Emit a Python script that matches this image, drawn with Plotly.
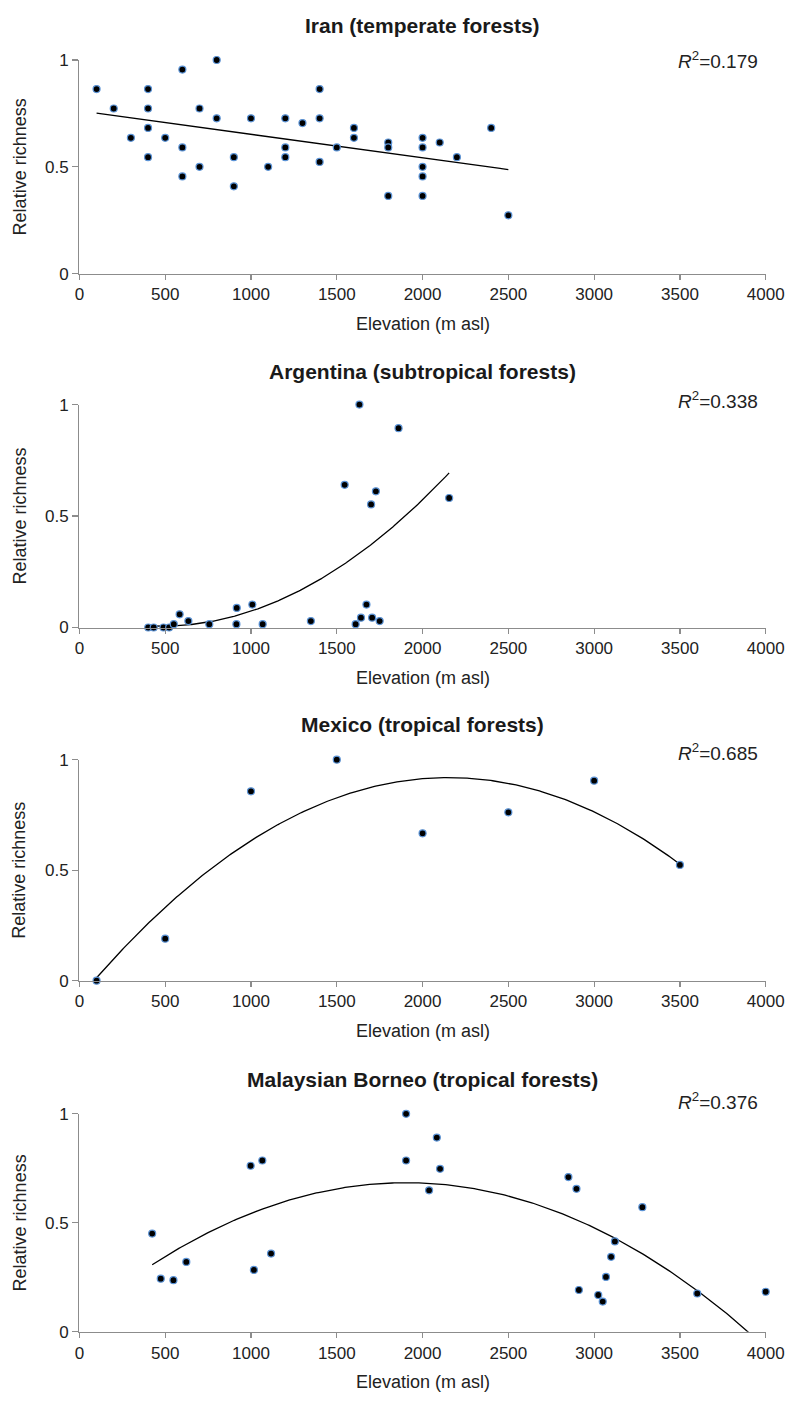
import numpy as np
import plotly.graph_objects as go

# ---------------- data ----------------
titles = ["Iran (temperate forests)", "Argentina (subtropical forests)",
          "Mexico (tropical forests)", "Malaysian Borneo (tropical forests)"]
r2_labels = ["0.179", "0.338", "0.685", "0.376"]
trend_degree = [1, 2, 2, 2]

iran_x = [100, 200, 300, 400, 400, 400, 400, 500, 600, 600, 600, 700, 700, 800, 800,
          900, 900, 1000, 1100, 1200, 1200, 1200, 1300, 1400, 1400, 1400, 1500, 1600, 1600,
          1800, 1800, 1800, 2000, 2000, 2000, 2000, 2000, 2100, 2200, 2400, 2500]
iran_y = [0.864, 0.773, 0.636, 0.864, 0.773, 0.682, 0.545, 0.636, 0.955, 0.591, 0.455,
          0.773, 0.5, 1.0, 0.727, 0.545, 0.409, 0.727, 0.5, 0.727, 0.591, 0.545, 0.705,
          0.864, 0.727, 0.523, 0.591, 0.682, 0.636, 0.614, 0.591, 0.364, 0.636, 0.591,
          0.5, 0.455, 0.364, 0.614, 0.545, 0.682, 0.273]

arg_x = [401, 433, 490, 523, 550, 584, 635, 757, 917, 915, 1008, 1068, 1349, 1546, 1632,
         1728, 1700, 1673, 1641, 1610, 1706, 1750, 1860, 2155]
arg_y = [0, 0, 0, 0, 0.015, 0.059, 0.029, 0.015, 0.088, 0.015, 0.103, 0.015, 0.029, 0.64,
         1.0, 0.611, 0.552, 0.103, 0.044, 0.015, 0.044, 0.029, 0.894, 0.581]

mex_x = [100, 500, 1000, 1500, 2000, 2500, 3000, 3500]
mex_y = [0, 0.19, 0.857, 1.0, 0.667, 0.762, 0.905, 0.524]

bor_x = [424, 474, 548, 623, 998, 1066, 1017, 1117, 1904, 1904, 2083, 2102, 2038, 2850,
         2897, 3281, 3121, 3099, 3069, 2911, 3024, 3050, 3601, 4000]
bor_y = [0.451, 0.244, 0.237, 0.321, 0.762, 0.786, 0.284, 0.359, 1.0, 0.786, 0.891, 0.748,
         0.649, 0.710, 0.656, 0.572, 0.415, 0.344, 0.252, 0.192, 0.169, 0.139, 0.176, 0.184]

x_ticks = [0, 500, 1000, 1500, 2000, 2500, 3000, 3500, 4000]
y_ticks = [0, 0.5, 1]
y_ticktext = ["0", "0.5", "1"]

datasets = [(iran_x, iran_y), (arg_x, arg_y), (mex_x, mex_y), (bor_x, bor_y)]

# ---------------- layout geometry (pixels) ----------------
W, H = 808, 1405
plot_left, plot_right = 76.7, 784.0
panel_px = [(51.7, 268.3), (401.0, 627.0), (761.0, 985.0), (1120.0, 1341.0)]
title_px = [17, 367, 725, 1085]
r2_px = [52, 396, 753, 1107]

FONT = "Liberation Sans, Arial, sans-serif"
TXT = "#222222"
AXC = "#8c8c8c"

def py(p):
    return 1 - p / H

def px(p):
    return p / W

fig = go.Figure()
annotations = []
layout_axes = {}

for i, ((xs, ys), (top, bot)) in enumerate(zip(datasets, panel_px)):
    n = i + 1
    xa = "x" if n == 1 else f"x{n}"
    ya = "y" if n == 1 else f"y{n}"
    xs_a = np.array(xs, dtype=float)
    ys_a = np.array(ys, dtype=float)
    coef = np.polyfit(xs_a, ys_a, trend_degree[i])
    xx = np.linspace(xs_a.min(), xs_a.max(), 300)
    yy = np.polyval(coef, xx)
    fig.add_trace(go.Scatter(x=xx, y=yy, mode="lines", xaxis=xa, yaxis=ya,
                             line=dict(color="black", width=1.3), showlegend=False,
                             hoverinfo="skip"))
    fig.add_trace(go.Scatter(x=xs, y=ys, mode="markers", xaxis=xa, yaxis=ya,
                             marker=dict(color="black", size=7,
                                         line=dict(color="#5b93d6", width=1.2)),
                             cliponaxis=False, showlegend=False))
    axkey = "" if n == 1 else str(n)
    layout_axes[f"xaxis{axkey}"] = dict(
        domain=[px(plot_left), px(plot_right)], anchor=ya, range=[0, 4000],
        tickmode="array", tickvals=x_ticks, ticks="outside", ticklen=5,
        tickcolor=AXC, tickwidth=1.2, showline=True, linecolor=AXC, linewidth=1.3,
        showgrid=False, zeroline=False, tickfont=dict(family=FONT, size=17, color=TXT),
        fixedrange=True)
    layout_axes[f"yaxis{axkey}"] = dict(
        domain=[py(bot), py(top)], anchor=xa, range=[0, 1],
        tickmode="array", tickvals=y_ticks, ticktext=y_ticktext, ticks="outside",
        ticklen=6, tickcolor=AXC, tickwidth=1.2, showline=True, linecolor=AXC,
        linewidth=1.3, showgrid=False, zeroline=False,
        tickfont=dict(family=FONT, size=17, color=TXT), fixedrange=True)

    annotations.append(dict(text=f"<b>{titles[i]}</b>", xref="paper", yref="paper",
                            x=px((plot_left + plot_right) / 2), y=py(title_px[i]),
                            xanchor="center", yanchor="middle", showarrow=False,
                            font=dict(family=FONT, size=21, color="#1a1a1a")))
    annotations.append(dict(text=f"<i>R</i><sup>2</sup>={r2_labels[i]}", xref="paper",
                            yref="paper", x=px(778), y=py(r2_px[i]), xanchor="right",
                            yanchor="middle", showarrow=False,
                            font=dict(family=FONT, size=19, color=TXT)))
    annotations.append(dict(text="Relative richness", xref="paper", yref="paper",
                            x=px(15), y=py((top + bot) / 2), xanchor="center",
                            yanchor="middle", textangle=-90, showarrow=False,
                            font=dict(family=FONT, size=18, color=TXT)))
    annotations.append(dict(text="Elevation (m asl)", xref="paper", yref="paper",
                            x=px((plot_left + plot_right) / 2), y=py(bot + 51),
                            xanchor="center", yanchor="middle", showarrow=False,
                            font=dict(family=FONT, size=18, color=TXT)))

fig.update_layout(width=W, height=H, margin=dict(l=0, r=0, t=0, b=0),
                  paper_bgcolor="white", plot_bgcolor="white", hovermode=False,
                  annotations=annotations, **layout_axes)

fig.write_html("out.html",
               config={"displayModeBar": False, "staticPlot": True},
               post_script="document.body.style.margin='0px';"
                           "document.body.style.overflow='hidden';")
